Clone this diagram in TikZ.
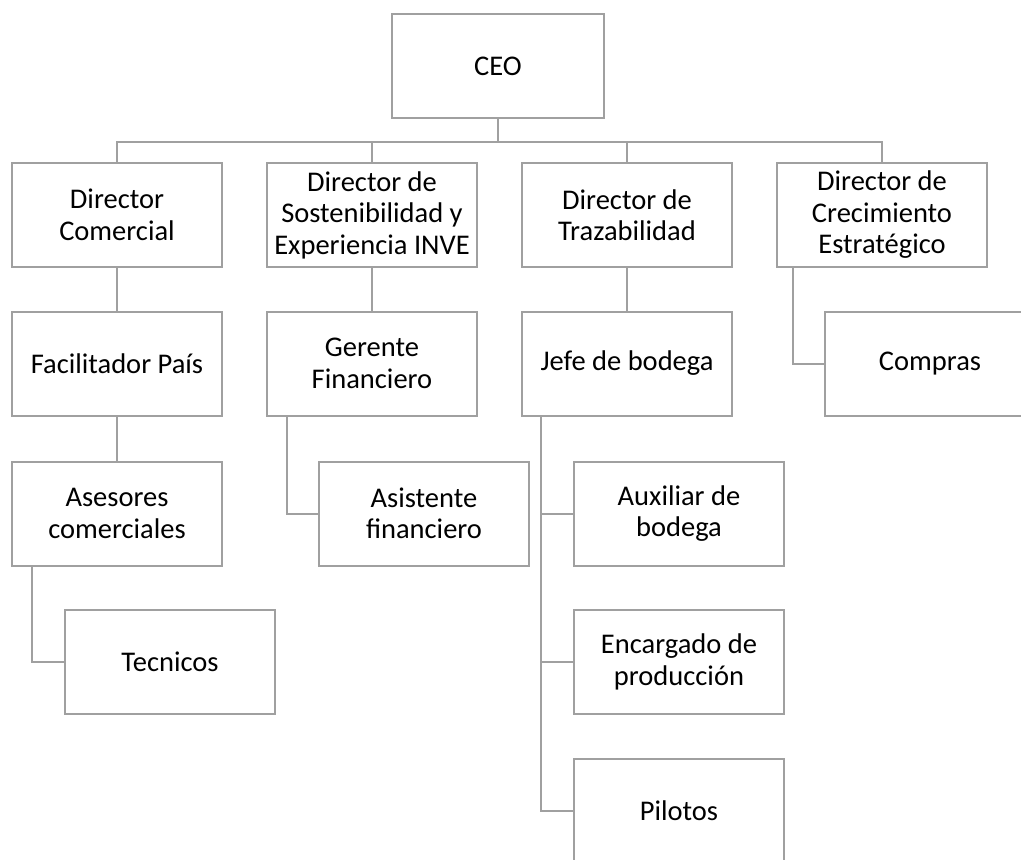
\documentclass[tikz,border=0pt]{standalone}
\usepackage{fontspec}
\setmainfont{Carlito}
\usetikzlibrary{calc}
\definecolor{linegray}{RGB}{160,160,160}
\begin{document}
\begin{tikzpicture}[x=1pt,y=-1pt,
  box/.style={draw=linegray,line width=2pt,fill=white,minimum width=210pt,minimum height=104pt,align=center,inner sep=0pt,font=\fontsize{28.5}{31.5}\selectfont},
  conn/.style={draw=linegray,line width=2pt}]
\useasboundingbox (0,0) rectangle (1021,860);
% nodes
\node[box,minimum width=212pt] (ceo) at (498,66) {CEO};
\node[box] (dc) at (117,215) {Director\\Comercial};
\node[box] (ds) at (372,215) {Director de\\Sostenibilidad y\\Experiencia INVE};
\node[box] (dt) at (627,215) {Director de\\Trazabilidad};
\node[box] (dce) at (882,215) {Director de\\Crecimiento\\Estratégico};
\node[box] (fac) at (117,363.5) {Facilitador País};
\node[box] (ger) at (372,363.5) {Gerente\\Financiero};
\node[box] (jefe) at (627,363.5) {Jefe de bodega};
\node[box] (com) at (930,363.5) {Compras};
\node[box] (ase) at (117,513.5) {Asesores\\comerciales};
\node[box] (asis) at (424,513.5) {Asistente\\financiero};
\node[box] (aux) at (679,513.5) {Auxiliar de\\bodega};
\node[box] (tec) at (170,662) {Tecnicos};
\node[box] (enc) at (679,662) {Encargado de\\producción};
\node[box] (pil) at (679,811) {Pilotos};
% connectors
\draw[conn] (ceo.south) -- ++(0,23) coordinate (bus);
\draw[conn] (dc.north) |- (bus);
\draw[conn] (ds.north) |- (bus);
\draw[conn] (dt.north) |- (bus);
\draw[conn] (dce.north) |- (bus);
\draw[conn] (dc.south) -- (fac.north);
\draw[conn] (ds.south) -- (ger.north);
\draw[conn] (dt.south) -- (jefe.north);
\draw[conn] ($(dce.south west)+(17,0)$) |- (com.west);
\draw[conn] (fac.south) -- (ase.north);
\draw[conn] ($(ger.south west)+(21,0)$) |- (asis.west);
\draw[conn] ($(ase.south west)+(21,0)$) |- (tec.west);
\draw[conn] ($(jefe.south west)+(20,0)$) |- (aux.west);
\draw[conn] ($(jefe.south west)+(20,0)$) |- (enc.west);
\draw[conn] ($(jefe.south west)+(20,0)$) |- (pil.west);
\end{tikzpicture}
\end{document}
